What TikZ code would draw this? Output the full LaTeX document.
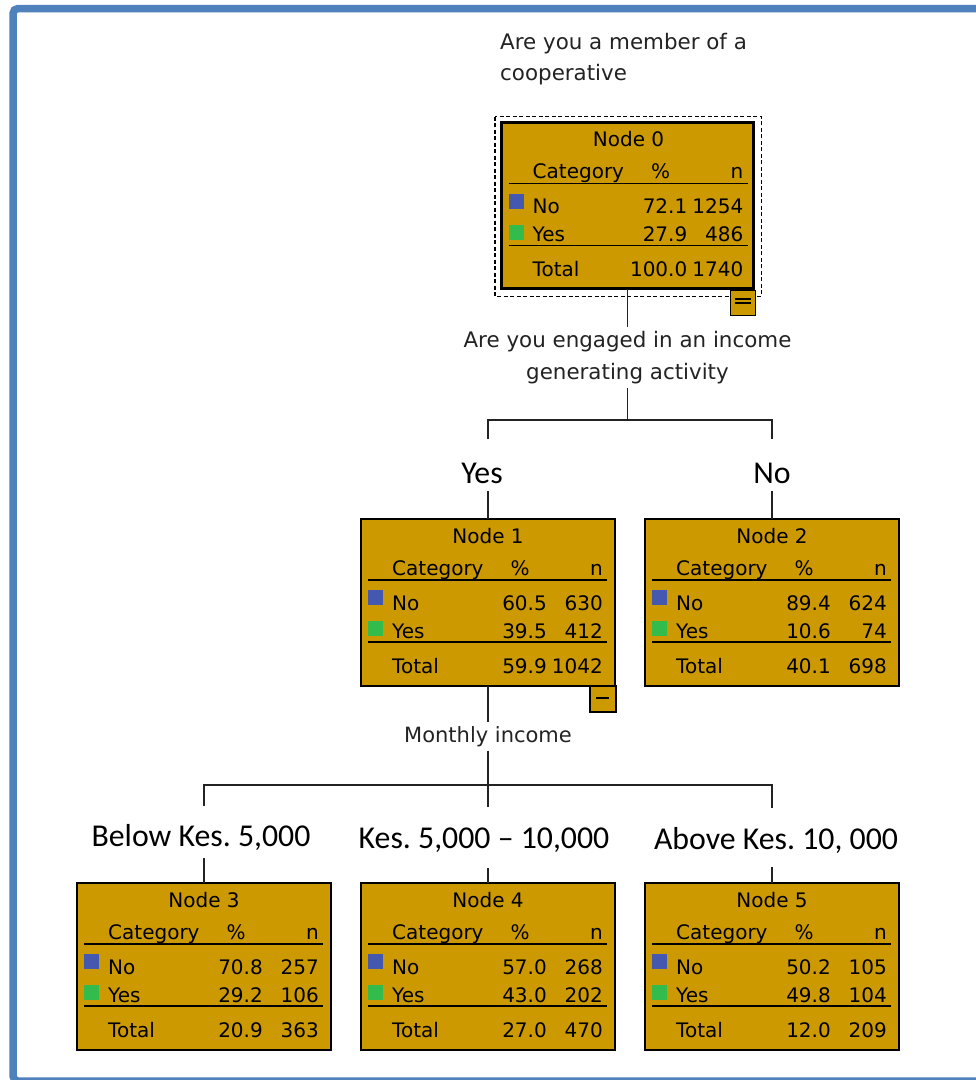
\documentclass[tikz,border=0pt]{standalone}
\usepackage{fontspec}
\setmainfont{DejaVu Sans}
\newfontfamily\labelfont{Carlito}
\frenchspacing
\definecolor{gold}{RGB}{204,153,0}
\definecolor{catblue}{RGB}{68,88,176}
\definecolor{catgreen}{RGB}{51,187,75}
\definecolor{frameblue}{RGB}{79,129,189}
\definecolor{ink}{RGB}{35,35,35}
\tikzset{
  statbox/.style={draw=black, fill=gold, line width=1.4pt, minimum width=254pt, minimum height=167pt, anchor=north west, inner sep=0pt, outer sep=0pt},
  stattext/.style={font=\fontsize{20}{24}\selectfont, inner sep=0pt, text=black},
  qtext/.style={font=\fontsize{21}{32}\selectfont, inner xsep=0pt, inner ysep=4pt, text=ink},
  branch/.style={font=\labelfont\fontsize{31.8}{36}\selectfont, inner sep=0pt, anchor=base, text=black},
  wire/.style={draw=ink, line width=1.8pt},
  statrule/.style={draw=black, line width=1.4pt},
  catsq/.style={minimum size=15pt, inner sep=0pt, outer sep=0pt, anchor=north west},
  togglebox/.style={draw=black, fill=gold, line width=1.3pt, minimum width=25pt, minimum height=25pt, anchor=north east, inner sep=0pt, outer sep=0pt},
}
\newcommand\statfill[8]{%
  \begin{scope}[shift={(#1.north west)}]
    \node[stattext, anchor=base] (#1-title) at (127,24) {#2};
    \node[stattext, anchor=base west] (#1-hc) at (31,56) {Category};
    \node[stattext, anchor=base] (#1-hp) at (159,56) {\%};
    \node[stattext, anchor=base east] (#1-hn) at (242,56) {n};
    \draw[statrule] (7,61) -- (246,61);
    \node[catsq, fill=catblue] (#1-sqno) at (7,71) {};
    \node[stattext, anchor=base west] (#1-no) at (31,91) {No};
    \node[stattext, anchor=base east] (#1-nop) at (186,91) {#3};
    \node[stattext, anchor=base east] (#1-non) at (242,91) {#4};
    \node[catsq, fill=catgreen] (#1-sqyes) at (7,102) {};
    \node[stattext, anchor=base west] (#1-yes) at (31,119) {Yes};
    \node[stattext, anchor=base east] (#1-yesp) at (186,119) {#5};
    \node[stattext, anchor=base east] (#1-yesn) at (242,119) {#6};
    \draw[statrule] (7,123) -- (246,123);
    \node[stattext, anchor=base west] (#1-tot) at (31,154) {Total};
    \node[stattext, anchor=base east] (#1-totp) at (186,154) {#7};
    \node[stattext, anchor=base east] (#1-totn) at (242,154) {#8};
  \end{scope}}
\begin{document}
\begin{tikzpicture}[x=1pt, y=-1pt]
\useasboundingbox (0,0) rectangle (976,1080);
\fill[white] (0,0) rectangle (976,1080);
% outer frame
\draw[frameblue, line width=7.5pt, rounded corners=5pt] (13,1081) -- (13,8.5) -- (990,8.5) -- (990,1081) -- cycle;

% question texts
\node[qtext, align=left, anchor=north west, inner ysep=0pt, font=\fontsize{21.4}{31}\selectfont] (q0) at (500,33) {Are you a member of a\\cooperative};
\node[qtext, align=center, anchor=north, font=\fontsize{21.4}{32}\selectfont] (q1) at (627.5,327) {Are you engaged in an income\\generating activity};
\node[qtext, anchor=base] (q2) at (488,742) {Monthly income};

% node 0
\node[statbox, line width=3pt, minimum width=252pt, minimum height=166pt] (n0) at (501.5,122.5) {};
\statfill{n0}{Node 0}{72.1}{1254}{27.9}{486}{100.0}{1740}
\draw[black, line width=1.5pt, dash pattern=on 4pt off 2.5pt] ([shift={(-6.5,-5.8)}]n0.north west) rectangle ([shift={(8,8)}]n0.south east);
\node[togglebox] (n0c) at (755.5,290.5) {};
\draw[black, line width=1.2pt] ([shift={(-21,8.5)}]n0c.north east) -- ([shift={(-5,8.5)}]n0c.north east);
\draw[black, line width=1.2pt] ([shift={(-21,12.5)}]n0c.north east) -- ([shift={(-5,12.5)}]n0c.north east);

% level 1 nodes
\node[statbox] (n1) at (361,519) {};
\statfill{n1}{Node 1}{60.5}{630}{39.5}{412}{59.9}{1042}
\node[togglebox, minimum width=26pt, minimum height=26pt] (n1c) at (616,686) {};
\draw[black, line width=1.4pt] ([shift={(-20,12)}]n1c.north east) -- ([shift={(-7,12)}]n1c.north east);
\node[statbox] (n2) at (645,519) {};
\statfill{n2}{Node 2}{89.4}{624}{10.6}{74}{40.1}{698}

% level 2 nodes
\node[statbox] (n3) at (77,883) {};
\statfill{n3}{Node 3}{70.8}{257}{29.2}{106}{20.9}{363}
\node[statbox] (n4) at (361,883) {};
\statfill{n4}{Node 4}{57.0}{268}{43.0}{202}{27.0}{470}
\node[statbox] (n5) at (645,883) {};
\statfill{n5}{Node 5}{50.2}{105}{49.8}{104}{12.0}{209}

% branch labels
\node[branch] (byes) at (482,483) {Yes};
\node[branch] (bno) at (772,483) {No};
\node[branch] (blow) at (201,846) {Below Kes. 5,000};
\node[branch] (bmid) at (484,848) {Kes. 5,000 – 10,000};
\node[branch] (bhigh) at (776,849) {Above Kes. 10, 000};

% connector coordinates
\coordinate (j1L) at (488,420);
\coordinate (j1R) at (772,420);
\coordinate (yesd) at (488,439);
\coordinate (nod) at (772,439);
\coordinate (yesu) at (488,491);
\coordinate (nou) at (772,491);
\coordinate (j2L) at (204,785);
\coordinate (j2R) at (772,785);
\coordinate (lowd) at (204,806);
\coordinate (midd) at (488,807);
\coordinate (highd) at (772,808);
\coordinate (lowu) at (204,858);
\coordinate (midu) at (488,868);
\coordinate (highu) at (772,867);

% connectors level 1
\draw[wire] (n0.south) -- (q1.north);
\draw[wire] (q1.south) -- (q1.south |- j1L);
\draw[wire] (yesd) -- (j1L) -- (j1R) -- (nod);
\draw[wire] (yesu) -- (n1.north);
\draw[wire] (nou) -- (n2.north);

% connectors level 2
\draw[wire] (n1.south) -- (q2.north);
\draw[wire] (q2.south) -- (q2.south |- j2L);
\draw[wire] (lowd) -- (j2L) -- (j2R) -- (highd);
\draw[wire] (q2.south |- j2L) -- (midd);
\draw[wire] (lowu) -- (n3.north);
\draw[wire] (midu) -- (n4.north);
\draw[wire] (highu) -- (n5.north);
\end{tikzpicture}
\end{document}
